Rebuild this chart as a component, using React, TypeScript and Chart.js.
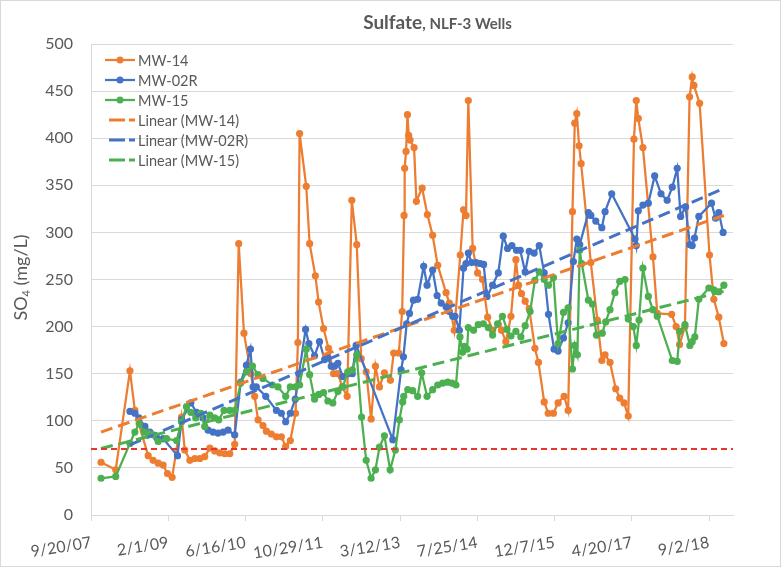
import React, { useEffect, useRef } from 'react';
import { Chart, registerables } from 'chart.js';

Chart.register(...registerables);

// X axis: Excel date serials (days since 1899-12-30)
const xTickStart = 39345; // 9/20/07
const xTickStep = 500;
const xMax = 43500;
const yMin = 0;
const yMax = 500;
const yStep = 50;
const limitValue = 70;

const seriesNames = ['MW-14', 'MW-02R', 'MW-15'];
const trendNames = ['Linear (MW-14)', 'Linear (MW-02R)', 'Linear (MW-15)'];

const mw14Dates = [
  39410, 39505, 39597, 39629, 39715, 39747, 39780, 39812, 39840, 39870,
  39931, 39952, 39985, 40017, 40049, 40081, 40114, 40146, 40178, 40211,
  40243, 40275, 40301, 40335, 40380, 40404, 40426, 40458, 40480, 40512,
  40545, 40577, 40605, 40635, 40669, 40684, 40695, 40738, 40760, 40797,
  40818, 40850, 40882, 40915, 40943, 40971, 41003, 41033, 41065, 41094,
  41126, 41158, 41186, 41212, 41244, 41283, 41304, 41337, 41359, 41371,
  41375, 41384, 41393, 41401, 41410, 41436, 41451, 41488, 41522, 41556,
  41589, 41643, 41664, 41696, 41735, 41756, 41772, 41787, 41815, 41847,
  41879, 41912, 41944, 41981, 42002, 42030, 42063, 42095, 42112, 42131,
  42155, 42181, 42218, 42241, 42278, 42304, 42338, 42368, 42407, 42433,
  42461, 42476, 42489, 42504, 42517, 42580, 42622, 42651, 42672, 42704,
  42741, 42767, 42795, 42822, 42859, 42874, 42887, 42917, 42982, 43010,
  43103, 43132, 43154, 43189, 43219, 43236, 43247, 43284, 43348, 43376,
  43408, 43441,
];
const mw14Values = [
  56, 48, 153, 111, 63, 58, 55, 53, 44, 40,
  104, 69, 58, 60, 60, 62, 71, 68, 66, 65,
  65, 75, 288, 193, 150, 126, 101, 95, 89, 86,
  83, 83, 73, 79, 108, 183, 405, 349, 288, 254,
  226, 198, 177, 150, 150, 136, 126, 334, 287, 166,
  152, 102, 158, 136, 151, 143, 172, 172, 216, 318,
  368, 386, 425, 403, 398, 390, 333, 347, 319, 297,
  265, 236, 225, 196, 276, 324, 318, 440, 283, 257,
  250, 210, 196, 202, 196, 184, 211, 271, 244, 235,
  227, 219, 177, 162, 120, 108, 108, 119, 126, 111,
  322, 416, 426, 392, 373, 268, 207, 164, 170, 162,
  134, 124, 119, 105, 399, 440, 421, 390, 274, 214,
  213, 200, 181, 200, 444, 465, 456, 437, 276, 229,
  210, 182,
];

const mw02rDates = [
  39597, 39629, 39655, 39694, 39726, 39771, 39812, 39905, 39931, 39991,
  40028, 40070, 40103, 40135, 40167, 40200, 40232, 40275, 40314, 40351,
  40377, 40394, 40415, 40476, 40545, 40577, 40605, 40635, 40667, 40691,
  40734, 40755, 40792, 40824, 40857, 40878, 40900, 40921, 40943, 40975,
  41007, 41036, 41061, 41298, 41352, 41367, 41388, 41406, 41432, 41459,
  41498, 41520, 41556, 41585, 41611, 41643, 41664, 41686, 41701, 41729,
  41756, 41772, 41787, 41808, 41837, 41864, 41886, 41908, 41944, 41981,
  42013, 42041, 42069, 42099, 42123, 42155, 42181, 42213, 42246, 42278,
  42306, 42342, 42368, 42403, 42433, 42467, 42489, 42508, 42564, 42580,
  42612, 42651, 42672, 42715, 42866, 42874, 42887, 42917, 42952, 42993,
  43034, 43074, 43107, 43139, 43161, 43193, 43221, 43236, 43251, 43279,
  43361, 43387, 43408, 43436,
];
const mw02rValues = [
  110, 108, 103, 94, 88, 82, 81, 63, 101, 119,
  109, 103, 90, 88, 87, 88, 90, 85, 141, 159,
  176, 136, 136, 126, 111, 108, 99, 108, 123, 150,
  197, 182, 169, 184, 165, 167, 158, 158, 161, 147,
  150, 150, 180, 80, 154, 168, 203, 214, 228, 229,
  264, 244, 260, 233, 225, 221, 216, 211, 211, 196,
  262, 267, 278, 268, 268, 267, 266, 232, 244, 257,
  296, 283, 286, 281, 281, 258, 280, 278, 286, 257,
  213, 176, 174, 188, 204, 269, 293, 287, 321, 318,
  312, 305, 322, 341, 293, 286, 323, 329, 331, 360,
  341, 334, 348, 368, 317, 327, 287, 286, 294, 317,
  331, 315, 321, 300,
];

const mw15Dates = [
  39410, 39505, 39597, 39629, 39657, 39689, 39715, 39747, 39780, 39834,
  39899, 39931, 39963, 39991, 40023, 40056, 40081, 40114, 40146, 40172,
  40206, 40243, 40275, 40314, 40351, 40390, 40426, 40458, 40519, 40555,
  40605, 40635, 40669, 40695, 40738, 40760, 40792, 40820, 40850, 40878,
  40910, 40943, 40975, 41007, 41036, 41065, 41096, 41126, 41158, 41186,
  41212, 41244, 41281, 41315, 41341, 41362, 41369, 41395, 41427, 41459,
  41485, 41520, 41556, 41589, 41621, 41653, 41682, 41707, 41733, 41750,
  41761, 41779, 41787, 41821, 41851, 41884, 41916, 41944, 41976, 42008,
  42037, 42063, 42095, 42127, 42155, 42187, 42218, 42246, 42278, 42306,
  42338, 42368, 42403, 42433, 42461, 42476, 42493, 42508, 42521, 42564,
  42590, 42616, 42654, 42676, 42704, 42736, 42767, 42801, 42822, 42855,
  42874, 42892, 42917, 42952, 42982, 43010, 43107, 43139, 43156, 43189,
  43221, 43236, 43253, 43279, 43344, 43376, 43408, 43441,
];
const mw15Values = [
  39, 41, 76, 88, 97, 88, 87, 85, 78, 81,
  79, 99, 115, 109, 103, 108, 94, 106, 103, 101,
  111, 111, 111, 140, 152, 158, 149, 145, 138, 136,
  126, 136, 136, 138, 176, 149, 123, 128, 130, 121,
  119, 131, 136, 152, 154, 170, 104, 58, 39, 48,
  72, 84, 48, 69, 101, 120, 126, 133, 132, 126,
  151, 126, 133, 138, 140, 141, 140, 138, 189, 173,
  179, 176, 199, 196, 202, 203, 199, 191, 203, 211,
  197, 190, 195, 189, 201, 216, 249, 258, 250, 244,
  252, 182, 215, 220, 155, 180, 170, 281, 267, 228,
  224, 191, 193, 205, 218, 236, 248, 250, 208, 200,
  180, 207, 262, 232, 218, 211, 164, 163, 195, 202,
  180, 184, 189, 229, 241, 239, 237, 244,
];

const ORANGE = '#ED7D31';
const BLUE = '#4472C4';
const GREEN = '#4CAF50';
const RED = '#E8352E';
const TEXT = '#595959';
const GRID = '#D9D9D9';
const FONT = 'Lato';

function toPoints(d: number[], v: number[]) {
  return d.map((x, i) => ({ x, y: v[i] }));
}

function trend(d: number[], v: number[]) {
  const n = d.length;
  let sx = 0, sy = 0, sxx = 0, sxy = 0;
  for (let i = 0; i < n; i++) {
    sx += d[i]; sy += v[i]; sxx += d[i] * d[i]; sxy += d[i] * v[i];
  }
  const mx = sx / n, my = sy / n;
  const b = (sxy - n * mx * my) / (sxx - n * mx * mx);
  const a = my - b * mx;
  const x0 = Math.min(...d), x1 = Math.max(...d);
  return [{ x: x0, y: a + b * x0 }, { x: x1, y: a + b * x1 }];
}

function serialToLabel(v: number) {
  const dt = new Date(Date.UTC(1899, 11, 30) + Math.round(v) * 86400000);
  const yy = String(dt.getUTCFullYear() % 100).padStart(2, '0');
  return `${dt.getUTCMonth() + 1}/${dt.getUTCDate()}/${yy}`;
}

const xTickValues: number[] = [];
for (let v = xTickStart; v <= xMax; v += xTickStep) xTickValues.push(v);

const legendItems = [
  { label: seriesNames[0], color: ORANGE, dashed: false },
  { label: seriesNames[1], color: BLUE, dashed: false },
  { label: seriesNames[2], color: GREEN, dashed: false },
  { label: trendNames[0], color: ORANGE, dashed: true },
  { label: trendNames[1], color: BLUE, dashed: true },
  { label: trendNames[2], color: GREEN, dashed: true },
];

const decorPlugin = {
  id: 'decor',
  afterDraw(chart: any) {
    const ctx = chart.ctx as CanvasRenderingContext2D;
    const area = chart.chartArea;
    ctx.save();
    // outer frame
    ctx.strokeStyle = GRID;
    ctx.lineWidth = 1;
    ctx.strokeRect(0.5, 0.5, chart.width - 1, chart.height - 1);

    // title
    ctx.fillStyle = TEXT;
    ctx.textBaseline = 'alphabetic';
    ctx.textAlign = 'left';
    const t1 = 'Sulfate';
    const t2 = ', NLF-3 Wells';
    ctx.font = `bold 19px ${FONT}`;
    const w1 = ctx.measureText(t1).width;
    ctx.font = `bold 15px ${FONT}`;
    const w2 = ctx.measureText(t2).width;
    const tx = 437.5 - (w1 + w2) / 2;
    ctx.font = `bold 19px ${FONT}`;
    ctx.fillText(t1, tx, 29);
    ctx.font = `bold 15px ${FONT}`;
    ctx.fillText(t2, tx + w1, 29);

    // y-axis title with subscript
    ctx.save();
    ctx.translate(21, (area.top + area.bottom) / 2 - 2);
    ctx.rotate(-Math.PI / 2);
    const a1 = 'SO', a2 = '4', a3 = ' (mg/L)';
    ctx.font = `18px ${FONT}`;
    const aw1 = ctx.measureText(a1).width;
    const aw3 = ctx.measureText(a3).width;
    ctx.font = `11px ${FONT}`;
    const aw2 = ctx.measureText(a2).width;
    let ax = -(aw1 + aw2 + aw3) / 2;
    ctx.textBaseline = 'middle';
    ctx.font = `18px ${FONT}`;
    ctx.fillText(a1, ax, 0);
    ax += aw1;
    ctx.font = `11px ${FONT}`;
    ctx.fillText(a2, ax, 5);
    ax += aw2;
    ctx.font = `18px ${FONT}`;
    ctx.fillText(a3, ax, 0);
    ctx.restore();

    // legend
    ctx.font = `14.5px ${FONT}`;
    ctx.textBaseline = 'middle';
    legendItems.forEach((it, i) => {
      const y = 60 + i * 20;
      ctx.strokeStyle = it.color;
      ctx.fillStyle = it.color;
      if (it.dashed) {
        ctx.lineWidth = 3;
        ctx.beginPath();
        ctx.moveTo(109, y); ctx.lineTo(125, y);
        ctx.moveTo(129, y); ctx.lineTo(135, y);
        ctx.stroke();
      } else {
        ctx.lineWidth = 2.25;
        ctx.beginPath();
        ctx.moveTo(105, y); ctx.lineTo(135, y);
        ctx.stroke();
        ctx.beginPath();
        ctx.arc(120, y, 3.5, 0, Math.PI * 2);
        ctx.fill();
      }
      ctx.fillStyle = TEXT;
      ctx.fillText(it.label, 138, y + 1);
    });
    ctx.restore();
  },
};

export default function App() {
  const ref = useRef<HTMLCanvasElement | null>(null);
  useEffect(() => {
    document.body.style.margin = '0';
    const canvas = ref.current;
    if (!canvas) return;
    const series = (label: string, d: number[], v: number[], color: string, order: number) => ({
      label,
      data: toPoints(d, v),
      showLine: true,
      borderColor: color,
      backgroundColor: color,
      borderWidth: 2.25,
      pointRadius: 3.6,
      pointBorderWidth: 0,
      pointBackgroundColor: color,
      tension: 0,
      order,
    });
    const trendDs = (label: string, d: number[], v: number[], color: string, order: number) => ({
      label,
      data: trend(d, v),
      showLine: true,
      borderColor: color,
      backgroundColor: color,
      borderWidth: 3,
      borderDash: [12, 6],
      pointRadius: 0,
      order,
    });
    const chart = new Chart(canvas, {
      type: 'scatter',
      data: {
        datasets: [
          series(seriesNames[0], mw14Dates, mw14Values, ORANGE, 6),
          series(seriesNames[1], mw02rDates, mw02rValues, BLUE, 5),
          series(seriesNames[2], mw15Dates, mw15Values, GREEN, 4),
          trendDs(trendNames[0], mw14Dates, mw14Values, ORANGE, 3),
          trendDs(trendNames[1], mw02rDates, mw02rValues, BLUE, 2),
          trendDs(trendNames[2], mw15Dates, mw15Values, GREEN, 1),
          {
            label: 'Limit',
            data: [{ x: xTickStart, y: limitValue }, { x: xMax, y: limitValue }],
            showLine: true,
            borderColor: RED,
            borderWidth: 2,
            borderDash: [6, 4],
            pointRadius: 0,
            order: 0,
          },
        ] as any,
      },
      options: {
        responsive: false,
        animation: false,
        events: [],
        layout: { padding: { left: 0, top: 44, right: 48, bottom: 0 } },
        plugins: {
          legend: { display: false },
          title: { display: false },
          tooltip: { enabled: false },
        },
        scales: {
          x: {
            type: 'linear',
            min: xTickStart,
            max: xMax,
            afterBuildTicks: (scale: any) => {
              scale.ticks = xTickValues.map((value) => ({ value }));
            },
            afterFit: (scale: any) => { scale.height = 52; },
            ticks: {
              autoSkip: false,
              minRotation: 9,
              maxRotation: 9,
              padding: 12,
              color: TEXT,
              font: { family: FONT, size: 16 },
              callback: (v: any) => serialToLabel(Number(v)),
            },
            grid: {
              display: true,
              drawOnChartArea: false,
              drawTicks: true,
              tickLength: 6,
              color: GRID,
            },
            border: { display: true, color: GRID, width: 1 },
          },
          y: {
            min: yMin,
            max: yMax,
            afterFit: (scale: any) => { scale.width = 91; },
            ticks: {
              stepSize: yStep,
              padding: 18,
              color: TEXT,
              font: { family: FONT, size: 16 },
            },
            grid: { color: GRID, drawTicks: false },
            border: { display: true, color: GRID, width: 1 },
          },
        },
      } as any,
      plugins: [decorPlugin],
    });
    return () => chart.destroy();
  }, []);
  return (
    <canvas
      ref={ref}
      width={781}
      height={567}
      style={{ display: 'block', width: 781, height: 567 }}
    />
  );
}
